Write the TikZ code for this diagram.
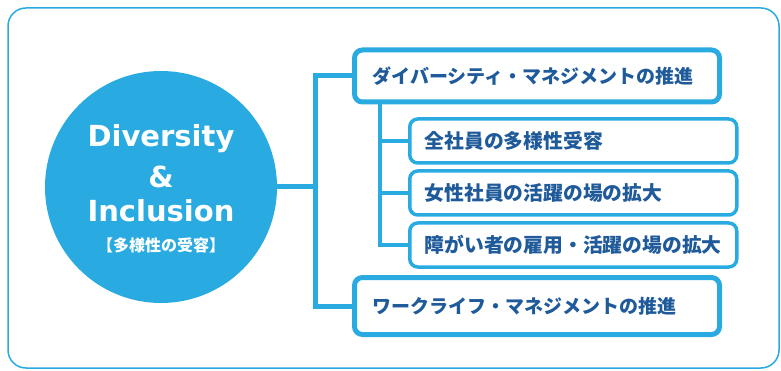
\documentclass[tikz,border=0pt]{standalone}
\usepackage{fontspec}
\setmainfont{DejaVu Sans}
\newfontfamily\jpfont{Noto Sans CJK JP}
\usetikzlibrary{positioning}
\definecolor{dicyan}{HTML}{29ABE2}
\definecolor{ditext}{HTML}{1F5A9A}
\tikzset{
  mainbox/.style={draw=dicyan, fill=white, line width=5pt, rounded corners=8pt,
    anchor=west, minimum width=365pt, inner xsep=18pt, text width=329pt, align=left,
    text=ditext, font=\jpfont\bfseries\fontsize{19}{19}\selectfont},
  subbox/.style={mainbox, line width=3.5pt, minimum width=327pt, minimum height=44pt,
    inner xsep=15pt, text width=297pt, font=\jpfont\bfseries\fontsize{19.8}{20}\selectfont},
  link/.style={draw=dicyan, line width=5pt},
  sublink/.style={draw=dicyan, line width=4pt}
}
\begin{document}
\begin{tikzpicture}[x=1pt,y=-1pt]
            \useasboundingbox (0,0) rectangle (781,371);
            \draw[dicyan, line width=1.5pt, rounded corners=18pt] (8,8) rectangle (779,368);
            % circle
            \node[circle, fill=dicyan, minimum size=232pt, inner sep=0pt] (di) at (161,187) {};
            \node[anchor=base, text=white, font=\bfseries\fontsize{29}{29}\selectfont] (t1) at (161,147) {Diversity};
            \node[anchor=base, text=white, font=\bfseries\fontsize{29}{29}\selectfont] (t2) at (161,188) {\&};
            \node[anchor=base, text=white, font=\bfseries\fontsize{29}{29}\selectfont] (t3) at (161,222) {Inclusion};
            \node[text=white, font=\jpfont\bfseries\fontsize{16}{16}\selectfont] (t4) at (161,245) {【多様性の受容】};
            % boxes
            \coordinate (j1) at (315,187);
            \coordinate (j2) at (380,102);
            \draw[link] (di.east) -- (j1);
            \draw[link] (353,76) -| (j1) |- (353,306);
            \draw[sublink] (j2) |- (408,245);
            \foreach \y in {141,193}{%
                    \draw[sublink] (j2 |- 0,\y) -- (408,\y);
                }
            \node[mainbox, minimum height=52pt] (dm) at (352,76) {ダイバーシティ・マネジメントの推進};
            \node[mainbox, minimum height=57pt] (wl) at (352,306) {ワークライフ・マネジメントの推進};
            \foreach \t/\y/\txt in {1/141/全社員の多様性受容,2/193/女性社員の活躍の場の拡大,3/245/障がい者の雇用・活躍の場の拡大}{%
                    \node[subbox] (s\t) at (408,\y) {\txt};
                }
        \end{tikzpicture}
\end{document}
